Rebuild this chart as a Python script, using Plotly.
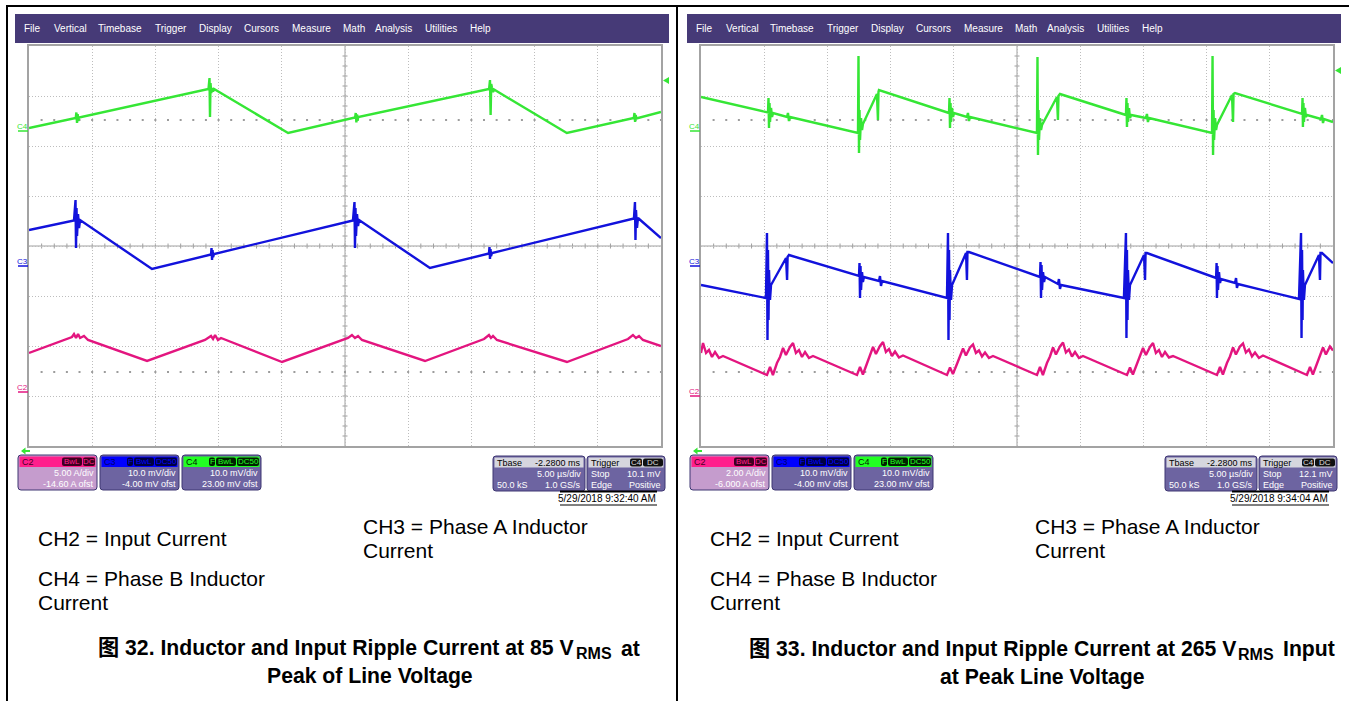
import plotly.graph_objects as go

W, H = 1349, 701
FONT = "Liberation Sans, Arial, Noto Sans CJK SC, sans-serif"

# ---- values read off the two scope captures ----
# time in us (5 us/div), C4 / C3 in mV, C2 in A

# fig 32, 85 Vrms
t32_c4 = [-25.0, -21.3, -21.25, -21.2, -21.15, -21.1, -21.05, -10.8, -10.72, -10.68, -10.64, -10.58,
          -10.52, -10.44, -10.36, -4.5, 0.8, 0.85, 0.9, 0.95, 1.0, 1.05, 11.4, 11.47, 11.52, 11.57,
          11.63, 11.71, 11.79, 17.55, 22.85, 22.9, 22.95, 23.0, 23.05, 25.0]
v32_c4 = [0.6, 2.6, 3.7, 1.6, 3.4, 2.0, 2.7, 8.4, 10.6, 2.8, 9.6, 7.6,
          8.6, 7.9, 8.4, -0.4, 2.7, 3.6, 1.7, 3.3, 2.1, 2.8, 8.4, 10.2, 3.2, 9.4,
          8.6, 7.8, 8.3, -0.4, 2.6, 3.6, 1.8, 3.2, 2.5, 3.8]

t32_c3 = [-25.0, -21.44, -21.32, -21.28, -21.24, -21.2, -21.12, -21.04, -20.96, -15.27, -10.6, -10.56,
          -10.52, -10.48, -10.44, -10.36, 0.63, 0.75, 0.79, 0.83, 0.87, 0.95, 1.03, 1.11, 6.72, 11.39,
          11.43, 11.47, 11.51, 11.55, 11.63, 22.86, 22.94, 22.98, 23.02, 23.1, 23.18, 25.0]
v32_c3 = [7.2, 9.1, 13.2, 3.6, 11.6, 6.0, 10.4, 7.6, 9.2, -0.6, 2.3, 3.6,
          1.2, 3.2, 1.8, 2.4, 9.1, 12.8, 3.6, 11.6, 6.0, 10.4, 8.0, 9.2, -0.4, 2.5,
          3.8, 1.4, 3.4, 2.0, 2.6, 9.5, 12.8, 5.2, 11.2, 7.6, 9.6, 5.6]

t32_c2 = [-25.0, -22.55, -21.6, -21.44, -21.28, -21.12, -20.96, -20.65, -20.33, -15.66, -11.08, -10.6,
          -10.44, -10.28, -10.05, -9.81, -4.98, 0.24, 0.55, 0.79, 1.03, 1.34, 6.33, 11.0, 11.39,
          11.55, 11.71, 12.02, 17.56, 22.39, 22.78, 23.02, 23.26, 23.57, 25.0]
i32_c2 = [3.9, 5.1, 5.5, 5.8, 5.4, 5.8, 5.4, 5.6, 5.2, 3.1, 5.2, 5.6,
          5.3, 5.7, 5.2, 5.4, 3.0, 5.4, 5.7, 5.4, 5.6, 5.2, 3.1, 5.3, 5.7,
          5.4, 5.6, 5.2, 3.0, 5.3, 5.7, 5.4, 5.6, 5.2, 4.6]

# fig 33, 265 Vrms
t33_c4 = [-25.0,
          -19.7, -19.66, -19.62, -19.58, -19.54, -19.46, -19.38, -19.3, -18.19, -18.12, -18.04, -17.96,
          -12.58, -12.54, -12.5, -12.46, -12.42, -12.34, -12.26, -12.19, -11.08, -11.0, -10.96, -10.92,
          -5.38, -5.34, -5.3, -5.26, -5.22, -5.14, -5.06, -4.98, -3.96, -3.88, -3.8, -3.72,
          1.58, 1.62, 1.66, 1.7, 1.74, 1.82, 1.9, 1.98, 3.16, 3.24, 3.28, 3.4,
          8.62, 8.66, 8.7, 8.74, 8.78, 8.86, 8.94, 9.02, 10.2, 10.28, 10.36, 10.44,
          15.43, 15.47, 15.51, 15.55, 15.59, 15.67, 15.75, 15.82, 17.01, 17.09, 17.13, 17.25,
          22.55, 22.59, 22.62, 22.66, 22.7, 22.78, 22.86, 22.94, 24.05, 24.13, 24.21, 24.29,
          25.0]
v33_c4 = [6.8,
          3.7, 6.6, 0.6, 5.6, 1.8, 4.6, 2.8, 3.6, 2.8, 3.6, 2.0, 2.8,
          -0.4, 15.0, -4.4, 4.2, -1.8, 2.6, 0.2, 1.4, 7.4, 2.2, 7.8, 8.2,
          3.6, 6.6, 0.6, 5.6, 1.8, 4.6, 2.8, 3.6, 2.8, 3.6, 2.0, 2.8,
          -0.4, 14.8, -4.8, 4.2, -1.8, 2.6, 0.2, 1.2, 6.8, 2.2, 7.0, 7.4,
          3.2, 6.6, 0.8, 5.6, 1.8, 4.6, 2.6, 3.2, 2.6, 3.4, 1.8, 2.6,
          -0.4, 15.0, -4.8, 4.2, -1.8, 2.6, 0.2, 1.2, 7.2, 1.8, 7.4, 7.6,
          3.4, 6.6, 0.8, 5.6, 1.8, 4.6, 2.8, 3.2, 2.4, 3.2, 1.6, 2.4,
          1.8]

t33_c3 = [-25.0,
          -19.86, -19.78, -19.74, -19.7, -19.66, -19.62, -19.54, -19.46, -18.27, -18.19, -18.15, -18.04,
          -12.5, -12.46, -12.42, -12.38, -12.34, -12.26, -12.19, -12.11, -10.92, -10.84, -10.76, -10.68,
          -5.54, -5.46, -5.42, -5.38, -5.34, -5.3, -5.22, -5.14, -4.03, -3.96, -3.92, -3.8,
          1.82, 1.86, 1.9, 1.94, 1.98, 2.06, 2.14, 2.22, 3.24, 3.32, 3.4, 3.48,
          8.46, 8.62, 8.66, 8.7, 8.74, 8.78, 8.86, 8.94, 10.05, 10.13, 10.17, 10.28,
          15.75, 15.79, 15.82, 15.86, 15.9, 15.98, 16.06, 16.14, 17.25, 17.33, 17.4, 17.48,
          22.31, 22.47, 22.51, 22.55, 22.59, 22.62, 22.7, 22.78, 23.89, 23.97, 24.01, 24.13,
          25.0]
v33_c3 = [-3.8,
          -6.4, 6.6, -14.8, 3.2, -10.8, -0.8, -6.8, -3.8, 1.6, -2.8, 1.8, 2.2,
          -2.0, 0.6, -6.4, 0.0, -4.8, -1.2, -3.2, -2.2, -3.0, -2.0, -4.0, -3.0,
          -6.4, 6.6, -14.8, 3.2, -10.8, -0.8, -6.8, -3.8, 2.6, -2.8, 2.8, 2.8,
          -2.2, 0.8, -6.4, 0.2, -4.8, -1.2, -3.2, -2.2, -3.6, -2.6, -4.6, -3.8,
          -6.4, 6.6, -14.4, 3.2, -10.8, -0.8, -6.8, -3.8, 2.2, -2.8, 2.6, 2.6,
          -2.4, 0.6, -6.4, 0.0, -4.8, -1.2, -3.4, -2.6, -3.4, -2.4, -4.4, -3.6,
          -6.6, 6.6, -14.4, 3.2, -10.8, -0.8, -6.8, -3.8, 2.2, -2.8, 2.6, 2.6,
          0.6]

t33_c2 = [-25.0, -24.84, -24.6, -24.37, -24.13, -23.89, -23.58, -23.26,
          -19.78, -19.54, -19.31, -18.99, -18.75, -18.51, -18.28, -17.96, -17.72, -17.49, -17.25, -17.01, -16.77, -16.46, -16.14,
          -12.66, -12.42, -12.19, -11.87, -11.63, -11.39, -11.16, -10.84, -10.6, -10.37, -10.13, -9.89, -9.65, -9.34, -9.02,
          -5.54, -5.3, -5.07, -4.75, -4.51, -4.27, -4.04, -3.72, -3.48, -3.25, -3.01, -2.77, -2.53, -2.22, -1.9,
          1.58, 1.82, 2.05, 2.37, 2.61, 2.85, 3.08, 3.4, 3.64, 3.87, 4.11, 4.35, 4.59, 4.9, 5.22,
          8.7, 8.94, 9.17, 9.49, 9.73, 9.97, 10.2, 10.52, 10.76, 10.99, 11.23, 11.47, 11.71, 12.02, 12.34,
          15.82, 16.06, 16.29, 16.61, 16.85, 17.09, 17.32, 17.64, 17.88, 18.11, 18.35, 18.59, 18.83, 19.14, 19.46,
          22.94, 23.18, 23.41, 23.73, 23.97, 24.21, 24.44, 24.76, 25.0]
i33_c2 = [1.72, 2.12, 1.72, 1.84, 1.56, 1.76, 1.52, 1.6,
          0.84, 1.16, 0.84, 1.32, 1.56, 1.92, 1.64, 1.96, 2.12, 1.72, 1.84, 1.56, 1.76, 1.52, 1.6,
          0.84, 1.16, 0.86, 1.3, 1.6, 1.96, 1.68, 2.0, 2.16, 1.76, 1.88, 1.6, 1.78, 1.54, 1.62,
          0.84, 1.14, 0.88, 1.28, 1.56, 1.9, 1.62, 1.94, 2.06, 1.72, 1.82, 1.58, 1.74, 1.52, 1.6,
          0.84, 1.16, 0.84, 1.32, 1.58, 1.94, 1.66, 1.98, 2.14, 1.74, 1.86, 1.58, 1.76, 1.52, 1.6,
          0.84, 1.14, 0.86, 1.3, 1.56, 1.92, 1.64, 1.96, 2.12, 1.72, 1.84, 1.56, 1.76, 1.54, 1.6,
          0.84, 1.16, 0.86, 1.32, 1.58, 1.94, 1.66, 1.98, 2.1, 1.74, 1.86, 1.58, 1.74, 1.52, 1.62,
          0.84, 1.16, 0.86, 1.32, 1.58, 1.94, 1.66, 1.98, 1.82]

# channel settings (per div, offset) for fig 32 / fig 33
c2_div = [5.0, 2.0]
c2_ofst = [-14.6, -6.0]
c3_div = [10.0, 10.0]
c3_ofst = [-4.0, -4.0]
c4_div = [10.0, 10.0]
c4_ofst = [23.0, 23.0]
trig_mv = [10.1, 12.1]

c2_txt = [["5.00 A/div", "-14.60 A ofst"], ["2.00 A/div", "-6.000 A ofst"]]
c3_txt = ["10.0 mV/div", "-4.00 mV ofst"]
c4_txt = ["10.0 mV/div", "23.00 mV ofst"]
trig_txt = ["10.1 mV", "12.1 mV"]
stamps = ["5/29/2018 9:32:40 AM", "5/29/2018 9:34:04 AM"]
menu = ["File", "Vertical", "Timebase", "Trigger", "Display", "Cursors", "Measure",
        "Math", "Analysis", "Utilities", "Help"]
cap_head = ["图 32. Inductor and Input Ripple Current at 85 V", "图 33. Inductor and Input Ripple Current at 265 V"]
cap_sub = ["RMS", "RMS"]
cap_tail = ["at", "Input"]
cap_line2 = ["Peak of Line Voltage", "at Peak Line Voltage"]

GREEN, BLUE, PINK = "#35e635", "#1212dc", "#e3157f"
MENU_BG, BODY, BODY_SEL, HEAD_GRAY = "#463a77", "#6d64a1", "#c59ccd", "#d6d6de"
menu_x = [23, 53, 97, 154, 198, 243, 291, 342, 374, 424, 469]
BADGE_W = {"F": 6, "BwL": 20, "DC": 12, "DC50": 22, "C4": 12}


def px(x):
    return x / W


def py(y):
    return 1 - y / H


shapes, notes = [], []


def poly(pts, fill):
    p = "M " + " L ".join(f"{px(x)},{py(y)}" for x, y in pts) + " Z"
    shapes.append(dict(type="path", path=p, xref="paper", yref="paper",
                       fillcolor=fill, line=dict(width=0)))


def box(x0, y0, x1, y1, fill, line=None, r=0, layer="above"):
    ln = dict(color=line, width=1) if line else dict(width=0)
    if r:
        p = (f"M {px(x0 + r)},{py(y0)} L {px(x1 - r)},{py(y0)} Q {px(x1)},{py(y0)} {px(x1)},{py(y0 + r)} "
             f"L {px(x1)},{py(y1 - r)} Q {px(x1)},{py(y1)} {px(x1 - r)},{py(y1)} "
             f"L {px(x0 + r)},{py(y1)} Q {px(x0)},{py(y1)} {px(x0)},{py(y1 - r)} "
             f"L {px(x0)},{py(y0 + r)} Q {px(x0)},{py(y0)} {px(x0 + r)},{py(y0)} Z")
        shapes.append(dict(type="path", path=p, xref="paper", yref="paper",
                           fillcolor=fill, line=ln, layer=layer))
    else:
        shapes.append(dict(type="rect", xref="paper", yref="paper", x0=px(x0), x1=px(x1),
                           y0=py(y1), y1=py(y0), fillcolor=fill, line=ln, layer=layer))


def seg(x0, y0, x1, y1, color, w=1, dash="solid", layer="above"):
    shapes.append(dict(type="line", xref="paper", yref="paper", x0=px(x0), x1=px(x1),
                       y0=py(y0), y1=py(y1), line=dict(color=color, width=w, dash=dash), layer=layer))


def label(x, y, s, size=9, color="white", anchor="left", bold=False):
    notes.append(dict(xref="paper", yref="paper", x=px(x), y=py(y), showarrow=False,
                      text=s, xanchor=anchor, yanchor="middle", borderpad=0,
                      font=dict(family=FONT, size=size, color=color,
                                weight="bold" if bold else "normal")))


def chan_box(x, name, head, name_col, badge_bg, body, badges, lines):
    box(x, 455, x + 79, 490, body, line="#3e3672", r=3)
    box(x + 1.5, 456.5, x + 77.5, 467, head)
    label(x + 3, 461.8, name, 9, name_col)
    bx = x + 77
    for b in reversed(badges):
        w = BADGE_W[b]
        box(bx - w, 457.5, bx, 466, badge_bg, r=2)
        label(bx - w / 2, 461.8, b, 8, head, "center")
        bx -= w + 1
    label(x + 77, 473, lines[0], 9, "white", "right")
    label(x + 77, 484, lines[1], 9, "white", "right")


fig = go.Figure()
axes = {}
series = [
    [(t32_c4, v32_c4, GREEN), (t32_c3, v32_c3, BLUE), (t32_c2, i32_c2, PINK)],
    [(t33_c4, v33_c4, GREEN), (t33_c3, v33_c3, BLUE), (t33_c2, i33_c2, PINK)],
]

for k in range(2):
    dx = 672 * k
    xn = "" if k == 0 else "2"
    yn = ["" if 3 * k + j == 0 else str(3 * k + j + 1) for j in range(3)]
    divs = [c4_div[k], c3_div[k], c2_div[k]]
    ofst = [c4_ofst[k], c3_ofst[k], c2_ofst[k]]

    axes["xaxis" + xn] = dict(domain=[px(29 + dx), px(661 + dx)], range=[-25, 25], anchor="y" + yn[0],
                              tick0=0, dtick=5, showgrid=True, gridcolor="#bdbdbd", griddash="1px,2px",
                              showline=True, mirror=True, linecolor="#a3a3a3", linewidth=1.5,
                              zeroline=False, showticklabels=False, ticks="", fixedrange=True)
    for j in range(3):
        ax = dict(domain=[py(446), py(46)], anchor="x" + xn,
                  range=[-4 * divs[j] - ofst[j], 4 * divs[j] - ofst[j]], fixedrange=True)
        if j == 0:
            ax.update(tick0=-ofst[j], dtick=divs[j], showgrid=True, gridcolor="#bdbdbd",
                      griddash="1px,2px", showline=True, mirror=True, linecolor="#a3a3a3",
                      linewidth=1.5, zeroline=False, showticklabels=False, ticks="")
        else:
            ax.update(overlaying="y" + yn[0], visible=False)
        axes["yaxis" + yn[j]] = ax

    for j, (t, v, col) in enumerate(series[k]):
        fig.add_trace(go.Scatter(x=t, y=v, xaxis="x" + xn, yaxis="y" + yn[j], mode="lines",
                                 line=dict(color=col, width=2.4), hoverinfo="skip", showlegend=False))

    # graticule centre cross with minor ticks, and the two dotted marker rows
    seg(29 + dx, 246, 661 + dx, 246, "#a0a0a0", 1, layer="below")
    seg(345 + dx, 46, 345 + dx, 446, "#a0a0a0", 1, layer="below")
    for t in range(-24, 25):
        shapes.append(dict(type="line", xref="x" + xn, yref="paper", x0=t, x1=t, y0=py(243.5),
                           y1=py(248.5), line=dict(color="#a0a0a0", width=1), layer="below"))
    lo = -4 * divs[0] - ofst[0]
    for j in range(1, 40):
        v = lo + j * divs[0] / 5
        shapes.append(dict(type="line", xref="paper", yref="y" + yn[0], x0=px(342.5 + dx),
                           x1=px(347.5 + dx), y0=v, y1=v, line=dict(color="#a0a0a0", width=1),
                           layer="below"))
    for yy in (120, 372):
        seg(40.6 + dx, yy, 661 + dx, yy, "#9c9c9c", 2, dash="2px,10.64px", layer="below")

    # channel ground markers (screen row of 0 V / 0 A) and trigger level
    for j, (nm, col) in enumerate([("C4", GREEN), ("C3", BLUE), ("C2", PINK)]):
        gy = 246 - 50 * ofst[j] / divs[j]
        label(22.5 + dx, gy - 5, nm, 8, col, "center")
        seg(18 + dx, gy, 28 + dx, gy, col, 1.5)
    ty = 246 - 50 * (trig_mv[k] + ofst[0]) / divs[0]
    poly([(663 + dx, ty), (669 + dx, ty - 3.5), (669 + dx, ty + 3.5)], GREEN)
    poly([(21 + dx, 451), (25.5 + dx, 447.5), (25.5 + dx, 450), (30 + dx, 450),
          (30 + dx, 452), (25.5 + dx, 452), (25.5 + dx, 454.5)], GREEN)

    # menu bar
    box(15 + dx, 14, 669 + dx, 43, MENU_BG)
    for name, mx in zip(menu, menu_x):
        label(mx + dx, 28.5, name, 10, "white")

    # channel descriptor boxes
    chan_box(18 + dx, "C2", "#ff1f8c", "#4a0026", "#3d0020", BODY_SEL, ["BwL", "DC"], c2_txt[k])
    chan_box(100 + dx, "C3", "#0000ff", "#00006a", "#000040", BODY, ["F", "BwL", "DC50"], c3_txt)
    chan_box(182 + dx, "C4", "#22ff22", "#002200", "#002000", BODY, ["F", "BwL", "DC50"], c4_txt)

    # timebase box
    x = 493 + dx
    box(x, 456, x + 92, 491, BODY, line="#3e3672", r=3)
    box(x + 1.5, 457.5, x + 90.5, 467.5, HEAD_GRAY)
    label(x + 3, 462.5, "Tbase", 9, "black")
    label(x + 89, 462.5, "-2.2800 ms", 9, "black", "right")
    label(x + 89, 474, "5.00 µs/div", 9, "white", "right")
    label(x + 3, 485, "50.0 kS", 9, "white")
    label(x + 89, 485, "1.0 GS/s", 9, "white", "right")

    # trigger box
    x = 587 + dx
    box(x, 456, x + 78, 491, BODY, line="#3e3672", r=3)
    box(x + 1.5, 457.5, x + 76.5, 467.5, HEAD_GRAY)
    label(x + 3, 462.5, "Trigger", 9, "black")
    box(x + 43, 458.5, x + 55, 466.5, "#111111", r=2)
    label(x + 49, 462.5, "C4", 8, "#dddddd", "center")
    box(x + 56, 458.5, x + 76, 466.5, "#111111", r=2)
    label(x + 66, 462.5, "DC", 8, "#dddddd", "center")
    label(x + 3, 474, "Stop", 9, "white")
    label(x + 75, 474, trig_txt[k], 9, "white", "right")
    label(x + 3, 485, "Edge", 9, "white")
    label(x + 75, 485, "Positive", 9, "white", "right")

    # time stamp
    seg(560 + dx, 491.5, 657 + dx, 491.5, "black", 2)
    label(657 + dx, 498.5, stamps[k], 10, "black", "right")
    seg(560 + dx, 505, 657 + dx, 505, "black", 1)

    # legend text and caption
    label(37 + dx, 538.5, "CH2 = Input Current", 21, "black")
    label(362 + dx, 526.5, "CH3 = Phase A Inductor", 21, "black")
    label(362 + dx, 550.5, "Current", 21, "black")
    label(37 + dx, 578.5, "CH4 = Phase B Inductor", 21, "black")
    label(37 + dx, 602.5, "Current", 21, "black")
    vx = [575, 1237][k]
    label(vx, 648 + k, cap_head[k], 21.2, "black", "right", bold=True)
    label(vx, 653.5 + k, cap_sub[k], 16, "black", "left", bold=True)
    label(vx + 45, 648 + k, cap_tail[k], 21.2, "black", "left", bold=True)
    label([370, 1042][k], 675.5 + k, cap_line2[k], 21.2, "black", "center", bold=True)

# table frame around the two figures
seg(7, 6, 1349, 6, "black", 2)
seg(7, 5, 7, 701, "black", 2)
seg(677, 5, 677, 701, "black", 2)

fig.update_layout(width=W, height=H, margin=dict(l=0, r=0, t=0, b=0),
                  paper_bgcolor="white", plot_bgcolor="white", showlegend=False,
                  shapes=shapes, annotations=notes, **axes)
fig.write_html("out.html", config={"displayModeBar": False},
               post_script="document.body.style.margin='0';document.body.style.overflow='hidden';")
